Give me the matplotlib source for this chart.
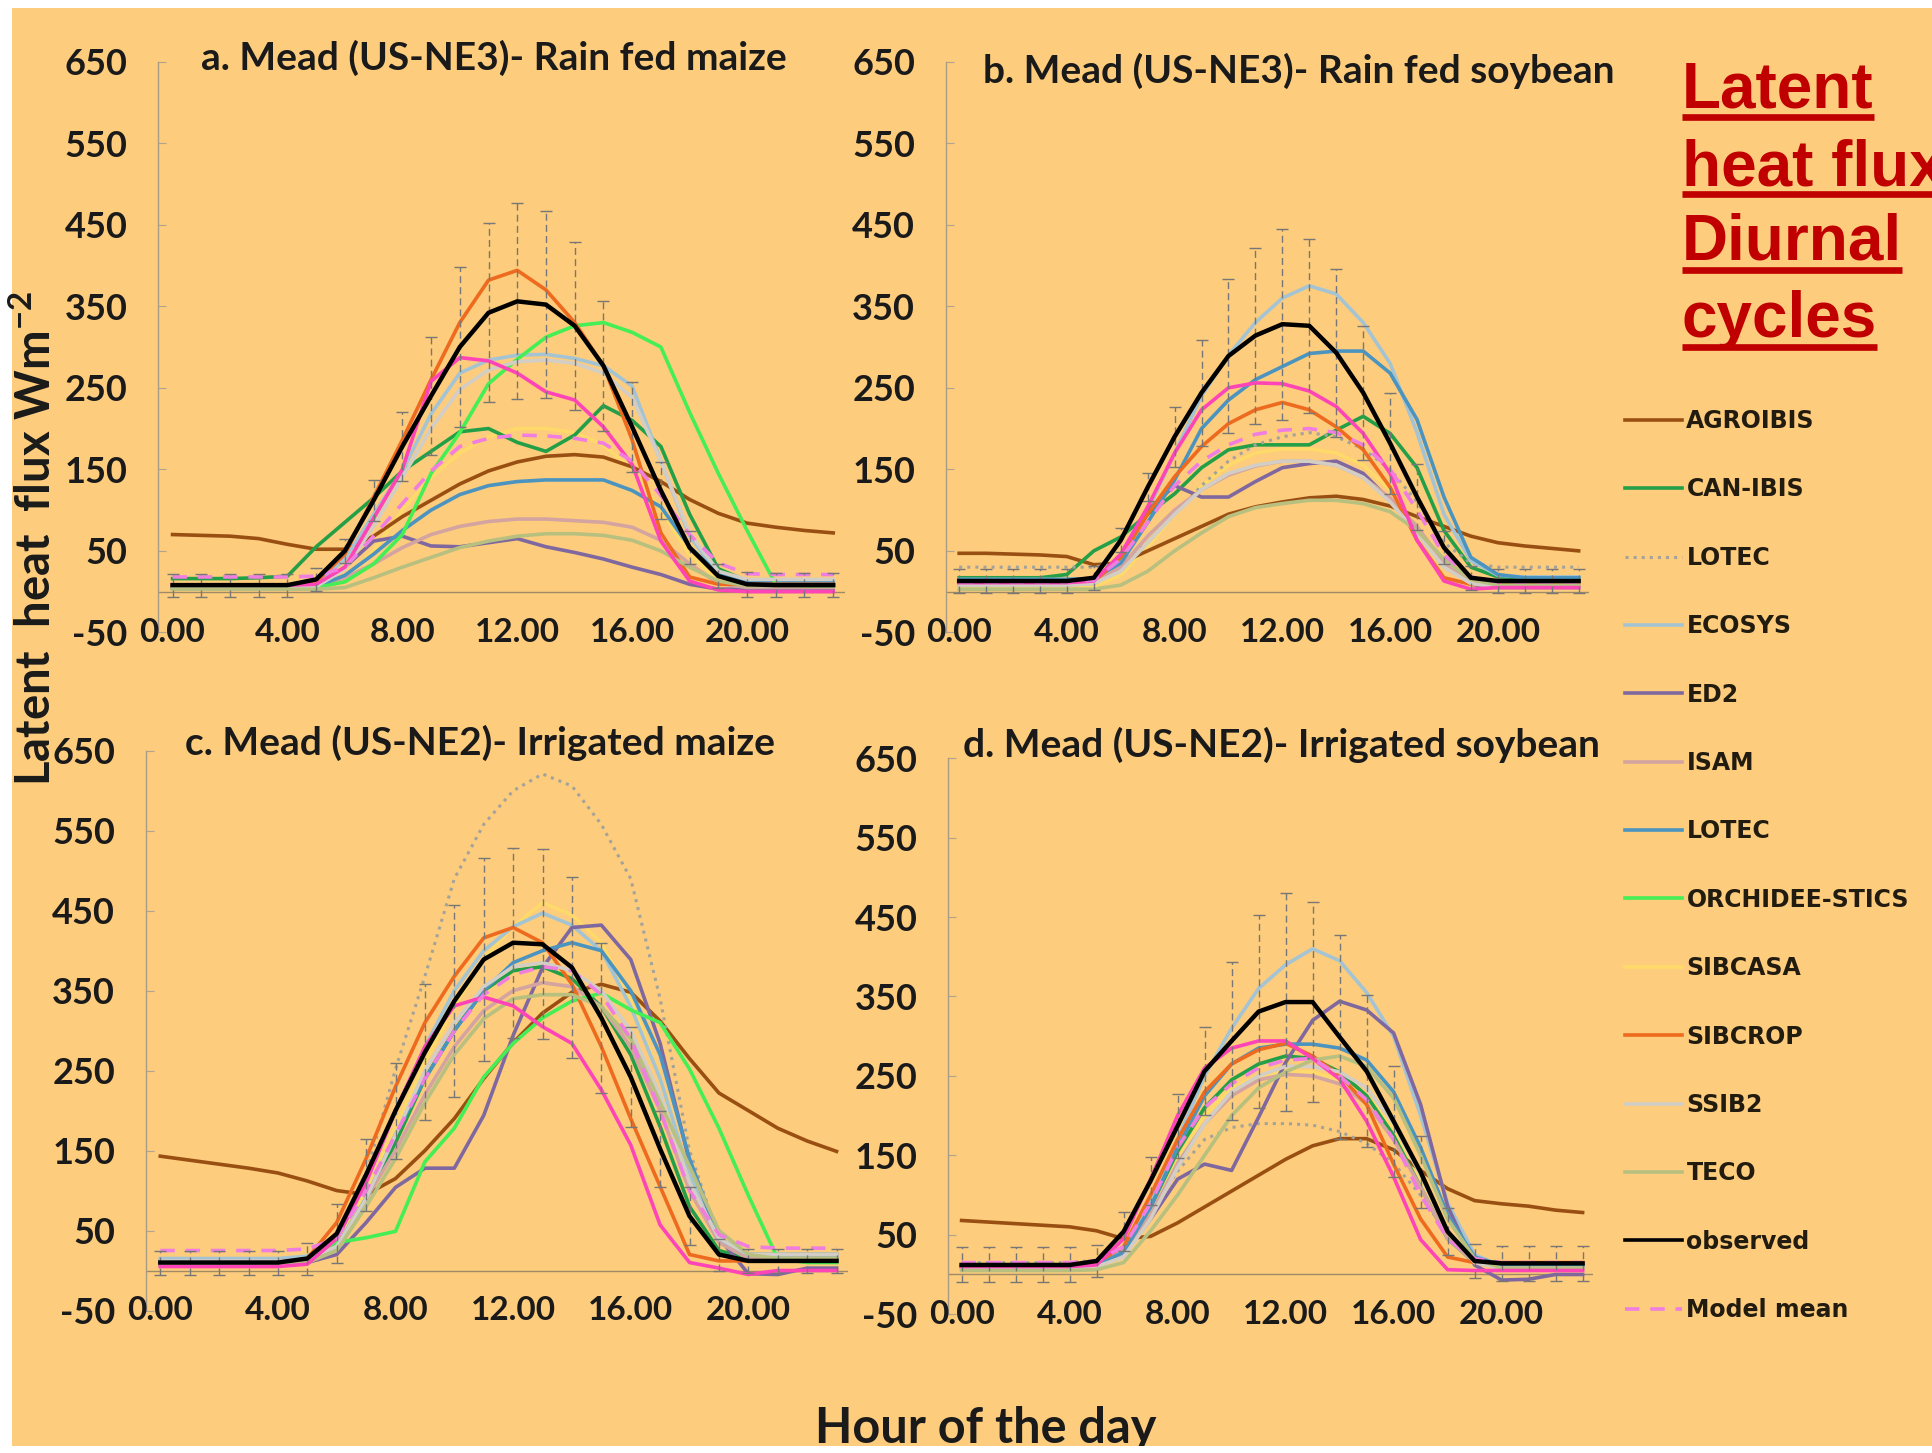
import numpy as np
import matplotlib
matplotlib.use("Agg")
import matplotlib.pyplot as plt
from matplotlib.lines import Line2D
from matplotlib.patches import Rectangle

plt.rcParams['font.family'] = ['Lato', 'DejaVu Sans']
plt.rcParams['mathtext.default'] = 'regular'

# ---- donnees (W m-2), une valeur par heure 0..23 ----
hours = np.arange(24)

model_names = ["AGROIBIS", "CAN-IBIS", "LOTEC", "ECOSYS", "ED2", "ISAM", "LOTEC",
               "ORCHIDEE-STICS", "SIBCASA", "SIBCROP", "SSIB2", "TECO"]
model_colours = ['#9A4F12', '#23A047', '#A3A39B', '#A4C4D4', '#7F68A0', '#D4A4A0',
                 '#4C94C0', '#44EE55', '#FFDA6A', '#EE6A1E', '#D2CEC6', '#B8C080']
model_styles = ['-', '-', ':', '-', '-', '-', '-', '-', '-', '-', '-', '-']

# a. Mead (US-NE3) - Rain fed maize
a_agroibis = [70, 69, 68, 65, 58, 52, 52, 68, 92, 112, 132, 148, 159, 166, 168, 165, 153, 135, 113, 96, 84, 79, 75, 72]
a_canibis = [16, 16, 16, 17, 19, 55, 85, 115, 148, 172, 196, 200, 183, 172, 192, 228, 210, 178, 95, 28, 13, 11, 11, 11]
a_lotec_dot = None
a_ecosys = [5, 5, 5, 5, 5, 8, 40, 95, 148, 218, 268, 284, 290, 291, 286, 277, 252, 160, 68, 22, 14, 13, 13, 13]
a_ed2 = [4, 4, 4, 4, 4, 6, 30, 62, 68, 56, 55, 60, 65, 55, 48, 40, 30, 21, 9, 3, 3, 3, 3, 3]
a_isam = [4, 4, 4, 4, 4, 5, 17, 34, 54, 70, 80, 86, 89, 89, 87, 85, 79, 63, 34, 10, 5, 5, 5, 5]
a_lotec = [5, 5, 5, 5, 5, 6, 20, 46, 75, 100, 119, 130, 135, 137, 137, 137, 124, 104, 55, 22, 13, 13, 13, 13]
a_orchidee = [5, 5, 5, 5, 5, 5, 12, 34, 70, 145, 195, 255, 285, 312, 326, 330, 318, 300, 220, 145, 75, 9, 7, 7]
a_sibcasa = [3, 3, 3, 3, 3, 4, 15, 50, 100, 140, 170, 190, 200, 200, 195, 180, 150, 100, 45, 15, 8, 6, 6, 6]
a_sibcrop = [7, 7, 7, 7, 7, 12, 46, 116, 186, 260, 330, 382, 394, 370, 330, 277, 186, 72, 18, 9, 9, 9, 9, 9]
a_ssib2 = [5, 5, 5, 5, 5, 6, 28, 80, 140, 200, 248, 272, 282, 284, 280, 268, 238, 160, 72, 25, 15, 15, 15, 15]
a_teco = [3, 3, 3, 3, 3, 3, 5, 17, 30, 42, 54, 62, 68, 71, 71, 69, 63, 50, 30, 13, 7, 7, 7, 7]
a_other = [8, 8, 8, 8, 8, 9, 30, 90, 150, 258, 287, 283, 268, 245, 235, 202, 156, 62, 13, 2, 0, 0, 0, 0]
a_obs = [8, 8, 8, 8, 8, 15, 50, 112, 178, 240, 300, 342, 356, 352, 326, 277, 202, 124, 54, 19, 9, 8, 8, 8]
a_err = [14, 14, 14, 14, 14, 14, 15, 25, 42, 72, 98, 110, 120, 115, 103, 80, 55, 35, 20, 15, 15, 15, 15, 15]
a_mean = [18, 18, 18, 18, 18, 19, 30, 68, 108, 148, 178, 188, 192, 191, 188, 182, 160, 118, 70, 35, 22, 21, 21, 21]

# b. Mead (US-NE3) - Rain fed soybean
b_agroibis = [47, 47, 46, 45, 43, 33, 35, 50, 65, 80, 95, 104, 110, 115, 117, 113, 105, 92, 80, 68, 60, 56, 53, 50]
b_canibis = [17, 17, 17, 17, 21, 50, 67, 95, 120, 152, 174, 180, 180, 180, 198, 215, 194, 152, 75, 30, 18, 17, 17, 17]
b_lotec_dot = [30, 30, 30, 30, 30, 30, 35, 60, 95, 130, 160, 180, 190, 195, 190, 175, 150, 110, 60, 35, 30, 30, 30, 30]
b_ecosys = [15, 15, 15, 15, 15, 16, 40, 100, 170, 240, 290, 330, 360, 375, 365, 330, 280, 195, 95, 38, 20, 18, 18, 18]
b_ed2 = [10, 10, 10, 10, 10, 12, 45, 100, 130, 116, 116, 135, 152, 157, 160, 145, 112, 75, 34, 9, 5, 5, 5, 5]
b_isam = [8, 8, 8, 8, 8, 10, 30, 68, 100, 125, 143, 154, 160, 160, 155, 140, 115, 80, 35, 10, 6, 6, 6, 6]
b_lotec = [15, 15, 15, 15, 15, 16, 35, 85, 137, 200, 235, 260, 276, 292, 295, 295, 268, 211, 116, 42, 21, 17, 17, 17]
b_orchidee = None
b_sibcasa = [5, 5, 5, 5, 5, 6, 20, 55, 95, 130, 155, 170, 175, 175, 170, 155, 125, 80, 35, 12, 6, 6, 6, 6]
b_sibcrop = [9, 9, 9, 9, 9, 12, 42, 95, 141, 178, 206, 223, 232, 223, 202, 174, 128, 63, 17, 9, 9, 9, 9, 9]
b_ssib2 = [8, 8, 8, 8, 8, 10, 25, 60, 95, 125, 145, 155, 160, 160, 155, 140, 110, 72, 30, 10, 6, 6, 6, 6]
b_teco = [3, 3, 3, 3, 3, 3, 8, 25, 50, 72, 92, 103, 108, 112, 112, 108, 98, 75, 40, 15, 8, 8, 8, 8]
b_other = [11, 11, 11, 11, 11, 13, 46, 104, 170, 223, 250, 256, 255, 246, 227, 194, 145, 63, 13, 3, 5, 5, 5, 5]
b_obs = [13, 13, 13, 13, 13, 17, 63, 128, 190, 244, 289, 314, 328, 326, 293, 244, 182, 116, 54, 17, 13, 13, 13, 13]
b_err = [15, 15, 15, 15, 15, 15, 15, 17, 37, 65, 94, 108, 117, 107, 103, 82, 62, 40, 20, 15, 15, 15, 15, 15]
b_mean = [12, 12, 12, 12, 12, 14, 40, 85, 130, 160, 180, 193, 198, 200, 195, 180, 150, 100, 45, 18, 12, 12, 12, 12]

# c. Mead (US-NE2) - Irrigated maize
c_agroibis = [143, 138, 133, 128, 122, 112, 100, 95, 115, 150, 190, 240, 285, 322, 348, 358, 348, 312, 265, 222, 200, 178, 162, 149]
c_canibis = [10, 10, 10, 10, 10, 15, 30, 90, 160, 240, 300, 350, 375, 380, 365, 330, 270, 180, 80, 25, 15, 15, 15, 15]
c_lotec_dot = [10, 10, 10, 10, 10, 12, 40, 120, 252, 368, 490, 558, 600, 621, 606, 558, 490, 340, 150, 40, 15, 15, 15, 15]
c_ecosys = [15, 15, 15, 15, 15, 18, 40, 110, 200, 280, 350, 400, 430, 447, 432, 400, 330, 240, 120, 40, 20, 20, 20, 20]
c_ed2 = [8, 8, 8, 8, 8, 10, 20, 60, 104, 128, 128, 194, 294, 379, 429, 432, 389, 284, 136, 41, -4, -5, 3, 3]
c_isam = [10, 10, 10, 10, 10, 12, 30, 90, 150, 220, 280, 325, 350, 360, 355, 330, 280, 200, 100, 35, 15, 15, 15, 15]
c_lotec = [12, 12, 12, 12, 12, 14, 30, 90, 170, 240, 300, 350, 385, 400, 410, 400, 350, 270, 140, 40, 20, 20, 20, 20]
c_orchidee = [10, 10, 10, 10, 10, 12, 35, 41, 49, 136, 178, 242, 284, 316, 337, 347, 326, 310, 252, 178, 94, 15, 10, 10]
c_sibcasa = [10, 10, 10, 10, 10, 12, 35, 100, 180, 260, 330, 390, 430, 460, 445, 410, 340, 240, 110, 35, 15, 15, 15, 15]
c_sibcrop = [10, 10, 10, 10, 10, 15, 60, 140, 230, 310, 368, 416, 429, 410, 358, 280, 190, 105, 20, 12, 12, 12, 12, 12]
c_ssib2 = [12, 12, 12, 12, 12, 14, 30, 90, 170, 250, 310, 355, 380, 385, 375, 350, 300, 220, 110, 40, 20, 20, 20, 20]
c_teco = [8, 8, 8, 8, 8, 10, 25, 80, 140, 210, 270, 315, 340, 345, 345, 330, 290, 210, 130, 50, 20, 15, 15, 15]
c_other = [5, 5, 5, 5, 5, 8, 40, 110, 200, 280, 331, 342, 331, 305, 284, 226, 157, 57, 10, 3, -5, 0, 0, 0]
c_obs = [10, 10, 10, 10, 10, 15, 46, 120, 200, 273, 337, 389, 410, 408, 379, 316, 242, 152, 68, 20, 12, 12, 12, 12]
c_err = [15, 15, 15, 15, 15, 20, 37, 45, 60, 85, 120, 127, 119, 119, 113, 94, 63, 48, 36, 20, 15, 15, 15, 15]
c_mean = [25, 25, 25, 25, 25, 27, 40, 100, 170, 240, 300, 345, 370, 380, 375, 345, 290, 200, 100, 45, 30, 28, 28, 28]

# d. Mead (US-NE2) - Irrigated soybean
d_agroibis = [68, 66, 64, 62, 60, 55, 45, 48, 65, 85, 105, 125, 145, 162, 171, 171, 157, 131, 108, 93, 89, 86, 81, 78]
d_canibis = [10, 10, 10, 10, 10, 12, 30, 85, 155, 210, 245, 265, 275, 272, 255, 225, 175, 110, 45, 15, 10, 10, 10, 10]
d_lotec_dot = [15, 15, 15, 15, 15, 18, 30, 80, 130, 170, 185, 190, 190, 188, 180, 165, 140, 100, 50, 20, 15, 15, 15, 15]
d_ecosys = [10, 10, 10, 10, 10, 12, 30, 90, 170, 250, 310, 360, 390, 410, 395, 355, 300, 200, 90, 25, 10, 10, 10, 10]
d_ed2 = [10, 10, 10, 10, 10, 12, 25, 70, 120, 139, 131, 198, 267, 320, 344, 333, 304, 214, 86, 12, -7, -6, 0, 0]
d_isam = [8, 8, 8, 8, 8, 10, 25, 75, 140, 190, 225, 245, 252, 250, 240, 215, 170, 110, 45, 15, 8, 8, 8, 8]
d_lotec = [10, 10, 10, 10, 10, 12, 28, 85, 160, 225, 265, 285, 290, 290, 285, 270, 230, 160, 75, 22, 12, 12, 12, 12]
d_orchidee = None
d_sibcasa = [8, 8, 8, 8, 8, 10, 25, 80, 145, 200, 235, 250, 255, 255, 245, 225, 185, 120, 55, 15, 8, 8, 8, 8]
d_sibcrop = [12, 12, 12, 12, 12, 15, 35, 100, 170, 230, 265, 283, 291, 275, 251, 214, 139, 70, 22, 15, 15, 15, 15, 15]
d_ssib2 = [8, 8, 8, 8, 8, 10, 22, 70, 135, 190, 230, 250, 262, 262, 255, 235, 190, 125, 55, 15, 8, 8, 8, 8]
d_teco = [5, 5, 5, 5, 5, 6, 15, 55, 100, 150, 200, 235, 255, 270, 275, 262, 222, 150, 70, 20, 8, 8, 8, 8]
d_other = [10, 10, 10, 10, 10, 12, 45, 120, 200, 260, 285, 294, 294, 272, 246, 193, 123, 44, 6, 5, 5, 5, 5, 5]
d_obs = [12, 12, 12, 12, 12, 17, 54, 118, 187, 256, 294, 331, 343, 343, 299, 256, 193, 129, 54, 17, 14, 14, 14, 14]
d_err = [22, 22, 22, 22, 22, 20, 25, 30, 40, 55, 100, 122, 137, 126, 128, 96, 70, 45, 30, 22, 22, 22, 22, 22]
d_mean = [15, 15, 15, 15, 15, 17, 35, 90, 160, 210, 240, 260, 270, 272, 250, 220, 170, 100, 45, 20, 15, 15, 15, 15]

panel_titles = ["a. Mead (US-NE3)- Rain fed maize", "b. Mead (US-NE3)- Rain fed soybean",
                "c. Mead (US-NE2)- Irrigated maize", "d. Mead (US-NE2)- Irrigated soybean"]
y_ticks = [-50, 50, 150, 250, 350, 450, 550, 650]
x_ticks = [0, 4, 8, 12, 16, 20]
x_ticklabels = ["0.00", "4.00", "8.00", "12.00", "16.00", "20.00"]

# tableau construit a partir des listes
panel_models = [
    [a_agroibis, a_canibis, a_lotec_dot, a_ecosys, a_ed2, a_isam, a_lotec, a_orchidee, a_sibcasa, a_sibcrop, a_ssib2, a_teco],
    [b_agroibis, b_canibis, b_lotec_dot, b_ecosys, b_ed2, b_isam, b_lotec, b_orchidee, b_sibcasa, b_sibcrop, b_ssib2, b_teco],
    [c_agroibis, c_canibis, c_lotec_dot, c_ecosys, c_ed2, c_isam, c_lotec, c_orchidee, c_sibcasa, c_sibcrop, c_ssib2, c_teco],
    [d_agroibis, d_canibis, d_lotec_dot, d_ecosys, d_ed2, d_isam, d_lotec, d_orchidee, d_sibcasa, d_sibcrop, d_ssib2, d_teco],
]
panel_other = [a_other, b_other, c_other, d_other]
panel_obs = [a_obs, b_obs, c_obs, d_obs]
panel_err = [a_err, b_err, c_err, d_err]
panel_mean = [a_mean, b_mean, c_mean, d_mean]

# ---- mise en page ----
W, H = 1933, 1453
BG = '#FDCC7C'
TXT = '#1a1a1a'

fig = plt.figure(figsize=(W / 100, H / 100), dpi=100, facecolor='white')
fig.patches.append(Rectangle((12 / W, 1 - 1446 / H), 1, (1446 - 8) / H,
                             transform=fig.transFigure, facecolor=BG,
                             edgecolor='none', zorder=-5))

# positions des axes en pixels : gauche, droite, haut, bas
boxes = [(158.2, 844.7, 61.6, 632.4),
         (945.7, 1589.4, 61.6, 632.4),
         (145.6, 848.3, 750.8, 1310.5),
         (948.1, 1593.4, 758.2, 1314.2)]
title_pos = [(201, 58), (983, 71), (185, 743), (963, 745)]

for k in range(4):
    l, r, t, b = boxes[k]
    ax = fig.add_axes([l / W, 1 - b / H, (r - l) / W, (b - t) / H])
    ax.patch.set_alpha(0)

    for serie, col, ls in zip(panel_models[k], model_colours, model_styles):
        if serie is None:
            continue
        lw = 2.2 if ls == ':' else 2.6
        z = 1.5 if col == '#FFDA6A' else 2
        ax.plot(hours, serie, color=col, linestyle=ls, linewidth=lw,
                solid_joinstyle='round', zorder=z)
    ax.plot(hours, panel_other[k], color='#FF44B8', linewidth=2.6, zorder=2)
    ax.plot(hours, panel_mean[k], color='#F07EE0', linewidth=2.6,
            linestyle=(0, (4, 3)), zorder=3)

    eb = ax.errorbar(hours, panel_obs[k], yerr=panel_err[k], fmt='none',
                     ecolor='#777777', elinewidth=1.0, capsize=4,
                     capthick=1.0, zorder=3)
    eb[2][0].set_linestyle((0, (5, 3)))
    ax.plot(hours, panel_obs[k], color='black', linewidth=3.2, zorder=4)

    ax.axhline(0, color='#A08A66', linewidth=1.0, zorder=1)
    ax.set_xlim(-0.5, 23.4)
    ax.set_ylim(-50, 650)

    for side in ['top', 'right', 'bottom']:
        ax.spines[side].set_visible(False)
    ax.spines['left'].set_color('#A89C88')
    ax.spines['left'].set_linewidth(1.0)

    ax.set_yticks(y_ticks)
    ax.set_yticklabels([str(v) for v in y_ticks])
    ax.tick_params(axis='y', direction='in', length=6, color='#B0A48E',
                   pad=22, labelsize=26, labelcolor=TXT)
    for lab in ax.get_yticklabels():
        lab.set_fontweight('bold')
    ax.set_xticks([])
    for xv, xl in zip(x_ticks, x_ticklabels):
        ax.text(xv, -50, xl, ha='center', va='center', fontsize=24,
                fontweight='bold', color=TXT, clip_on=False)

    tx, ty = title_pos[k]
    fig.text(tx / W, 1 - ty / H, panel_titles[k], ha='left', va='center',
             fontsize=28, fontweight='bold', color=TXT)

# axe commun
fig.text(35 / W, 1 - 539 / H, "Latent  heat  flux Wm$^{-2}$", rotation=90,
         ha='center', va='center', fontsize=34, fontweight='bold', color=TXT)
fig.text(986 / W, 1 - 1443 / H, "Hour of the day", ha='center', va='baseline',
         fontsize=35, fontweight='bold', color=TXT)

# legende
handles = [Line2D([], [], color=c, linestyle=s, linewidth=2.6 if s == '-' else 2.2)
           for c, s in zip(model_colours, model_styles)]
handles.append(Line2D([], [], color='black', linewidth=2.6))
handles.append(Line2D([], [], color='#F07EE0', linewidth=2.6, linestyle=(0, (4, 3))))
labels = model_names + ["observed", "Model mean"]
fig.legend(handles, labels, loc='upper left', bbox_to_anchor=(1625 / W, 1 - 409 / H),
           frameon=False, borderpad=0, borderaxespad=0, handlelength=2.4,
           handletextpad=0.2, labelspacing=1.88, labelcolor='#221c10',
           prop={'family': 'DejaVu Sans', 'weight': 'bold', 'size': 17})

# titre souligne en haut a droite
RED = '#C00000'
lines_title = ["Latent", "heat flux", "Diurnal", "cycles"]
baselines = [108, 185, 260, 337]
unders = [117, 194, 270, 347]
renderer = fig.canvas.get_renderer()
for txt, bl, ul in zip(lines_title, baselines, unders):
    t = fig.text(1682 / W, 1 - bl / H, txt, ha='left', va='baseline',
                 fontsize=46, fontweight='bold', color=RED,
                 family=['Liberation Sans', 'DejaVu Sans'])
    ext = t.get_window_extent(renderer=renderer)
    fig.add_artist(Line2D([ext.x0 / W, ext.x1 / W], [1 - ul / H, 1 - ul / H],
                          transform=fig.transFigure, color=RED, linewidth=4.8,
                          solid_capstyle='butt'))

# bande blanche en bas
fig.patches.append(Rectangle((0, 0), 1, 1 - 1446 / H, transform=fig.transFigure,
                             facecolor='white', edgecolor='none', zorder=10))

fig.savefig("out.png", dpi=100, facecolor=fig.get_facecolor())
